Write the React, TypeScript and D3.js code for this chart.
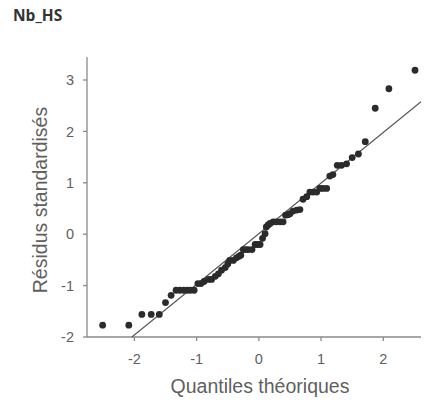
import React from 'react';
import * as d3 from 'd3';

// theoretical quantiles (x) and standardized residuals (y)
const theoQuantiles = [
  -2.51, -2.09, -1.88, -1.73, -1.6, -1.5, -1.41, -1.33, -1.27, -1.21, -1.15, -1.1, -1.04,
  -0.98, -0.93, -0.88, -0.81, -0.76, -0.7, -0.65, -0.6, -0.54, -0.5, -0.47, -0.41, -0.36,
  -0.32, -0.29, -0.25, -0.21, -0.17, -0.11, -0.06, -0.02, 0.02, 0.06, 0.1, 0.12, 0.15, 0.18,
  0.23, 0.28, 0.34, 0.39, 0.43, 0.47, 0.5, 0.55, 0.61, 0.66, 0.71, 0.77, 0.82, 0.87, 0.93,
  0.98, 1.03, 1.09, 1.14, 1.19, 1.26, 1.33, 1.41, 1.5, 1.6, 1.71, 1.87, 2.09, 2.51,
];
const residuals = [
  -1.77, -1.77, -1.56, -1.56, -1.56, -1.33, -1.19, -1.09, -1.09, -1.09, -1.09, -1.09, -1.09,
  -0.96, -0.96, -0.92, -0.88, -0.88, -0.82, -0.77, -0.7, -0.65, -0.58, -0.51, -0.51, -0.46,
  -0.43, -0.41, -0.3, -0.3, -0.3, -0.3, -0.2, -0.2, -0.2, -0.08, 0.01, 0.14, 0.18, 0.21,
  0.24, 0.24, 0.24, 0.24, 0.37, 0.38, 0.4, 0.45, 0.47, 0.48, 0.68, 0.73, 0.82, 0.82, 0.82,
  0.89, 0.89, 0.89, 1.13, 1.16, 1.34, 1.34, 1.37, 1.49, 1.56, 1.8, 2.45, 2.83, 3.19,
];
const xTicks = [-2, -1, 0, 1, 2];
const yTicks = [-2, -1, 0, 1, 2, 3];
const refIntercept = 0.01;
const refSlope = 0.985;

const W = 424;
const H = 405;
const left = 87;
const right = 421;
const top = 57;
const bottom = 337;

const App = () => {
  const x = d3.scaleLinear().domain([-2, 2]).range([134.4, 383.3]);
  const xMax = x.invert(right);
  const y = d3.scaleLinear().domain([-2, 3]).range([bottom, 80]);

  const points = theoQuantiles.map((q, i) => ({ q, r: residuals[i] }));

  const lineStart = (-2 - refIntercept) / refSlope;
  const refLine = d3
    .line<number>()
    .x((d) => x(d))
    .y((d) => y(refIntercept + refSlope * d))([lineStart, xMax]);

  const axisColor = '#8a8a8a';
  const labelColor = '#5f5f5f';
  const font = 'Liberation Sans, Arial, sans-serif';

  return (
    <div style={{ position: 'absolute', left: 0, top: 0 }}>
      <svg width={W} height={H} style={{ display: 'block', background: '#fff' }}>
        <text
          x={13}
          y={21}
          fontFamily="Open Sans, sans-serif"
          fontWeight="bold"
          fontSize={15.5}
          fill="#333"
        >
          Nb_HS
        </text>

        {/* axes */}
        <line x1={left} x2={left} y1={top} y2={bottom} stroke={axisColor} strokeWidth={1.3} />
        <line x1={left} x2={right} y1={bottom} y2={bottom} stroke={axisColor} strokeWidth={1.3} />

        {yTicks.map((t) => (
          <g key={'y' + t}>
            <line x1={left - 4} x2={left} y1={y(t)} y2={y(t)} stroke={axisColor} strokeWidth={1.3} />
            <text
              x={left - 13}
              y={y(t)}
              dy="0.36em"
              textAnchor="end"
              fontFamily={font}
              fontSize={14.5}
              fill={labelColor}
            >
              {t}
            </text>
          </g>
        ))}

        {xTicks.map((t) => (
          <g key={'x' + t}>
            <line x1={x(t)} x2={x(t)} y1={bottom} y2={bottom + 4} stroke={axisColor} strokeWidth={1.3} />
            <text
              x={x(t)}
              y={364}
              textAnchor="middle"
              fontFamily={font}
              fontSize={14.5}
              fill={labelColor}
            >
              {t}
            </text>
          </g>
        ))}

        <text
          x={260}
          y={393}
          textAnchor="middle"
          fontFamily={font}
          fontSize={19.5}
          fill={labelColor}
        >
          Quantiles théoriques
        </text>
        <text
          transform={`translate(47,200) rotate(-90)`}
          textAnchor="middle"
          fontFamily={font}
          fontSize={19.5}
          fill={labelColor}
        >
          Résidus standardisés
        </text>

        {/* reference line */}
        <path d={refLine || ''} fill="none" stroke="#555" strokeWidth={1.1} />

        {/* points */}
        {points.map((p, i) => (
          <circle key={i} cx={x(p.q)} cy={y(p.r)} r={3.4} fill="#2b2b2b" />
        ))}
      </svg>
    </div>
  );
};

export default App;
